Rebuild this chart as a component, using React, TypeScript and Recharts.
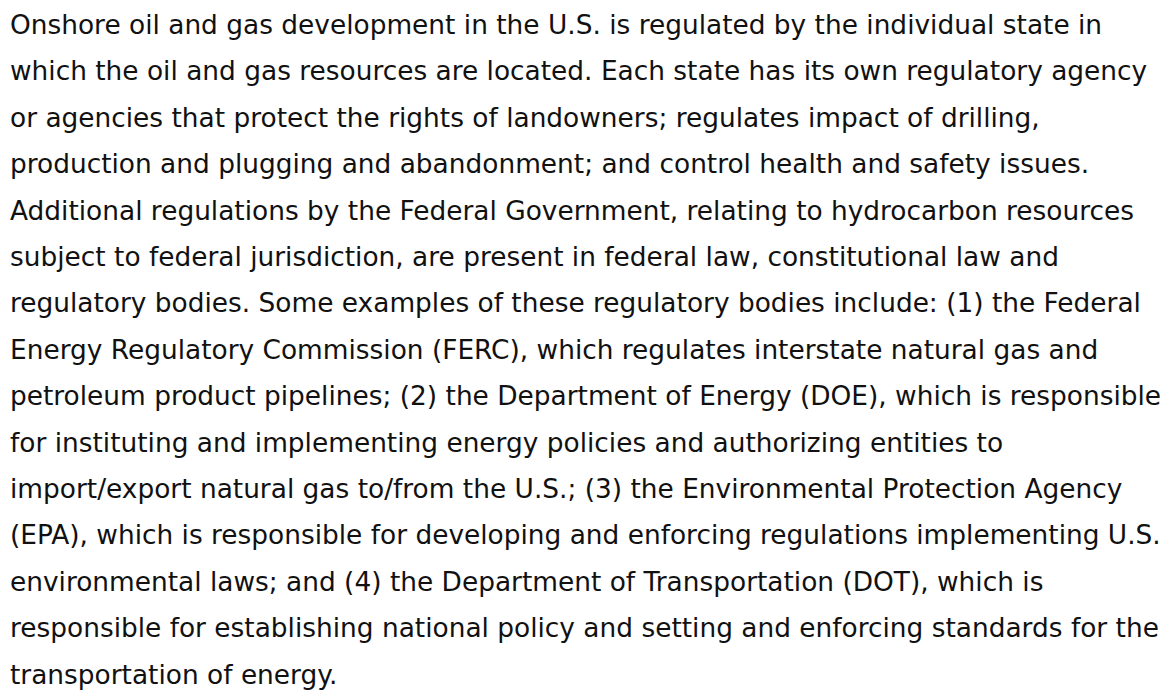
import React from 'react';
import { Surface, Text } from 'recharts';

const lines = [
  'Onshore oil and gas development in the U.S. is regulated by the individual state in',
  'which the oil and gas resources are located. Each state has its own regulatory agency',
  'or agencies that protect the rights of landowners; regulates impact of drilling,',
  'production and plugging and abandonment; and control health and safety issues.',
  'Additional regulations by the Federal Government, relating to hydrocarbon resources',
  'subject to federal jurisdiction, are present in federal law, constitutional law and',
  'regulatory bodies. Some examples of these regulatory bodies include: (1) the Federal',
  'Energy Regulatory Commission (FERC), which regulates interstate natural gas and',
  'petroleum product pipelines; (2) the Department of Energy (DOE), which is responsible',
  'for instituting and implementing energy policies and authorizing entities to',
  'import/export natural gas to/from the U.S.; (3) the Environmental Protection Agency',
  '(EPA), which is responsible for developing and enforcing regulations implementing U.S.',
  'environmental laws; and (4) the Department of Transportation (DOT), which is',
  'responsible for establishing national policy and setting and enforcing standards for the',
  'transportation of energy.',
];

const W = 1174;
const H = 697;
const LINE_H = 46.4;

const App = () => {
  return (
    <div style={{ position: 'absolute', left: 0, top: 0, width: W, height: H, background: '#fff' }}>
      <Surface width={W} height={H}>
        {lines.map((line, i) => (
          <Text
            key={`line-${i}`}
            x={10}
            y={34 + i * LINE_H}
            verticalAnchor="end"
            fill="#111"
            style={{ fontFamily: '"DejaVu Sans", sans-serif', fontSize: 26.4 }}
          >
            {line}
          </Text>
        ))}
      </Surface>
    </div>
  );
};

export default App;
